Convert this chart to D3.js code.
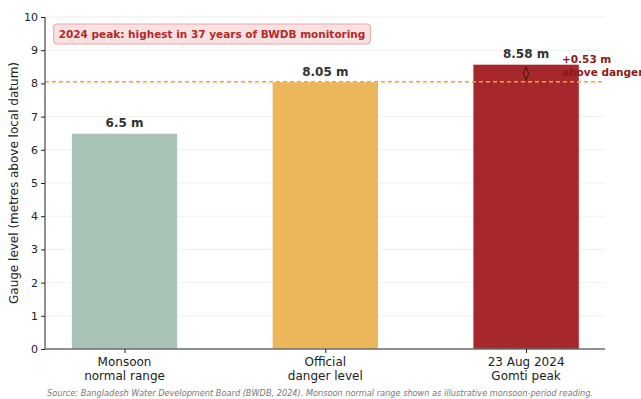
<!DOCTYPE html>
<html><head><meta charset="utf-8">
<script src="https://cdn.jsdelivr.net/npm/d3@7"></script>
<style>body{margin:0;background:#fff}svg{display:block}text{font-family:"DejaVu Sans",sans-serif}</style>
</head><body>
<svg id="c" width="641" height="399"></svg>
<script>
const categories = [["Monsoon","normal range"],["Official","danger level"],["23 Aug 2024","Gomti peak"]];
const values = [6.5, 8.05, 8.58];
const barColors = ["#a8c3b5", "#ecb65a", "#a6282c"];
const barLabels = ["6.5 m", "8.05 m", "8.58 m"];
const dangerLevel = 8.05;
const peakMarker = 8.3;
const yTicks = [0,1,2,3,4,5,6,7,8,9,10];
const note = "2024 peak: highest in 37 years of BWDB monitoring";
const excessLabel = ["+0.53 m", "above danger"];
const source = "Source: Bangladesh Water Development Board (BWDB, 2024). Monsoon normal range shown as illustrative monsoon-period reading.";

const svg = d3.select("#c");
const L = 45, R = 605, T = 17, B = 349;
const x = d3.scaleLinear().domain([-0.396, 2.393]).range([L, R]);
const y = d3.scaleLinear().domain([0, 10]).range([B, T]);
const bw = 0.53;

// grid
svg.append("g").selectAll("line").data(yTicks.slice(1)).join("line")
  .attr("x1", L).attr("x2", R).attr("y1", d => y(d)).attr("y2", d => y(d))
  .attr("stroke", "#ebebeb").attr("stroke-width", 0.8);

// bars
svg.append("g").selectAll("rect").data(values).join("rect")
  .attr("x", (d, i) => x(i - bw / 2)).attr("width", x(bw) - x(0))
  .attr("y", d => y(d)).attr("height", d => B - y(d))
  .attr("fill", (d, i) => barColors[i]).attr("stroke", "#fff").attr("stroke-width", 1);

// danger line
svg.append("line").attr("x1", L).attr("x2", R).attr("y1", y(dangerLevel)).attr("y2", y(dangerLevel))
  .attr("stroke", "#e8a838").attr("stroke-width", 1.3).attr("stroke-dasharray", "4,3");

// peak marker (diamond)
svg.append("path").attr("d", d3.symbol(d3.symbolDiamond, 45)())
  .attr("transform", `translate(${x(2)},${y(peakMarker)}) scale(0.75,1)`)
  .attr("fill", "none").attr("stroke", "#3a1a1a").attr("stroke-width", 1.2);

// bar labels
svg.append("g").selectAll("text").data(values).join("text")
  .attr("x", (d, i) => x(i)).attr("y", d => y(d) - 6)
  .attr("text-anchor", "middle").attr("font-size", 12).attr("font-weight", "bold").attr("fill", "#333")
  .text((d, i) => barLabels[i]);

// excess label
const ex = svg.append("text").attr("x", 562).attr("y", 63).attr("font-size", 10.5).attr("font-weight", "bold").attr("fill", "#8b1a1a");
ex.selectAll("tspan").data(excessLabel).join("tspan").attr("x", 562).attr("dy", (d, i) => i ? 12.5 : 0).text(d => d);

// axes
const ya = svg.append("g").attr("transform", `translate(${L},0)`)
  .call(d3.axisLeft(y).tickValues(yTicks).tickSize(4).tickPadding(3));
ya.selectAll("text").attr("font-size", 11).attr("fill", "#222").attr("font-family", "DejaVu Sans");
ya.selectAll("line").attr("stroke", "#222");
ya.select(".domain").attr("stroke", "#222").attr("d", `M0,${B}V${T}`);

const xa = svg.append("g").attr("transform", `translate(0,${B})`)
  .call(d3.axisBottom(x).tickValues([0, 1, 2]).tickSize(4).tickFormat(""));
xa.selectAll("line").attr("stroke", "#222");
xa.select(".domain").attr("stroke", "#222").attr("d", `M${L},0H${R}`);

svg.append("g").selectAll("text").data(categories).join("text")
  .attr("x", (d, i) => x(i)).attr("y", 366).attr("text-anchor", "middle")
  .attr("font-size", 12).attr("fill", "#222")
  .selectAll("tspan").data(d => d).join("tspan")
  .attr("x", function () { return d3.select(this.parentNode).attr("x"); })
  .attr("dy", (d, i) => i ? 14 : 0).text(d => d);

// y label
svg.append("text").attr("transform", `translate(18,${(T + B) / 2}) rotate(-90)`)
  .attr("text-anchor", "middle").attr("font-size", 12).attr("fill", "#222")
  .text("Gauge level (metres above local datum)");

// note box
const nt = svg.append("text").attr("x", 212).attr("y", 38).attr("text-anchor", "middle")
  .attr("font-size", 10.5).attr("font-weight", "bold").attr("fill", "#b22a2a").text(note);
const bb = nt.node().getBBox();
svg.insert("rect", () => nt.node()).attr("x", bb.x - 5).attr("y", 24).attr("width", bb.width + 10).attr("height", 20)
  .attr("rx", 3).attr("fill", "#f9e1e1").attr("stroke", "#e6a7a7").attr("stroke-width", 1);

// source
svg.append("text").attr("x", 320).attr("y", 396).attr("text-anchor", "middle")
  .attr("font-size", 8.2).attr("font-style", "italic").attr("fill", "#777").text(source);
</script>
</body></html>
